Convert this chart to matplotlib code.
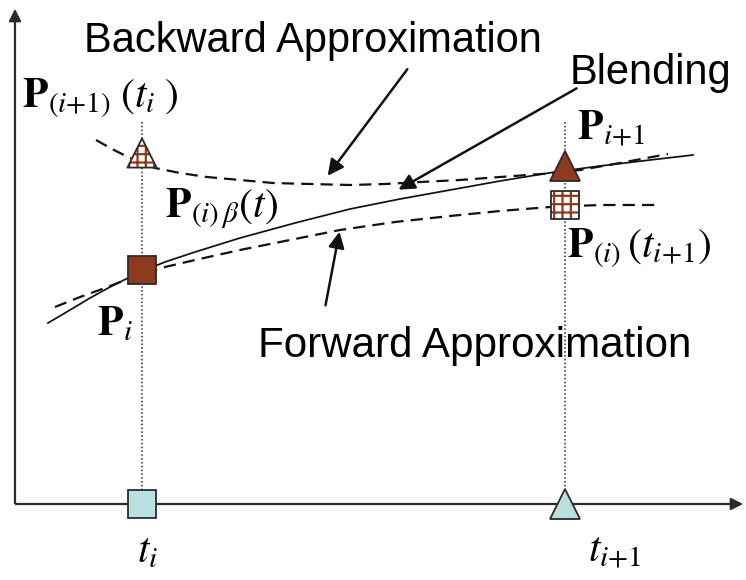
import matplotlib
matplotlib.use("Agg")
import matplotlib.pyplot as plt

plt.rcParams['mathtext.fontset'] = 'stix'
plt.rcParams['hatch.color'] = '#9a3b22'
plt.rcParams['hatch.linewidth'] = 1.6

# ---- data (pixel-space coordinates) ----
blend_x = [48, 70, 90, 110, 128, 145, 165, 195, 240, 295, 350, 400, 450, 500, 555, 600, 650, 693]
blend_y = [323, 310, 298, 287, 278, 270, 262, 252, 238, 223, 209, 199, 190, 181, 172, 166, 160, 155]

forward_x = [55, 80, 105, 128, 145, 165, 195, 240, 290, 340, 395, 450, 500, 550, 600, 657]
forward_y = [307, 297, 288, 279, 273, 267, 260, 250, 240, 230, 222, 216, 211, 207, 205, 205]

backward_x = [96, 112, 128, 142, 155, 180, 207, 240, 273, 310, 350, 385, 420, 460, 500, 555, 580, 620, 668]
backward_y = [140, 149, 157, 163, 168, 173, 177, 180, 183, 184, 185, 184, 182, 180, 177, 173, 170, 163, 154]

t_pos = [142, 565]
t_labels = [r'$t_i$', r'$t_{i{+}1}$']
axis_y = 504

P_i = (142, 270)
P_back = (142, 153)
P_next = (565, 166)
P_fwd = (565, 205)

BROWN = '#8e3a1f'
BLUE = '#bcdfe1'
DARK = '#2b2b2b'

fig = plt.figure(figsize=(7.46, 5.80), dpi=100)
ax = fig.add_axes([0, 0, 1, 1])
ax.set_xlim(0, 746)
ax.set_ylim(580, 0)
ax.axis('off')

# axes with arrows
ax.plot([15, 15], [axis_y, 20], color=DARK, lw=1.6, zorder=2, solid_capstyle='butt')
ax.plot([15, 736], [axis_y, axis_y], color=DARK, lw=1.6, zorder=2, solid_capstyle='butt')
ax.annotate('', xy=(15, 6), xytext=(15, 24),
            arrowprops=dict(arrowstyle='-|>', color=DARK, lw=1.6, mutation_scale=18))
ax.annotate('', xy=(746, axis_y), xytext=(730, axis_y),
            arrowprops=dict(arrowstyle='-|>', color=DARK, lw=1.6, mutation_scale=18))

# dotted verticals
for x in t_pos:
    ax.plot([x, x], [122, axis_y], color=DARK, lw=1.1, ls=(0, (1, 1.5)), zorder=1)

# curves
ax.plot(blend_x, blend_y, color='#111111', lw=1.25, zorder=3)
ax.plot(forward_x, forward_y, color='#111111', lw=1.6, ls=(0, (5.5, 3.2)), zorder=3)
ax.plot(backward_x, backward_y, color='#111111', lw=1.6, ls=(0, (5.5, 3.2)), zorder=3)

# axis markers
ax.plot([t_pos[0]], [axis_y], marker='s', ms=20, mfc=BLUE, mec=DARK, mew=1.3, zorder=5)
ax.plot([t_pos[1]], [axis_y], marker='^', ms=21, mfc=BLUE, mec=DARK, mew=1.3, zorder=5)

# solid points
ax.plot([P_i[0]], [P_i[1]], marker='s', ms=20, mfc=BROWN, mec=DARK, mew=1.3, zorder=5)
ax.plot([P_next[0]], [P_next[1]], marker='^', ms=21, mfc=BROWN, mec=DARK, mew=1.3, zorder=5)

# hatched points
ax.scatter([P_back[0]], [P_back[1]], marker='^', s=21**2, facecolor='white',
           edgecolor=BROWN, hatch='++', linewidths=0, zorder=5)
ax.scatter([P_back[0]], [P_back[1]], marker='^', s=21**2, facecolor='none',
           edgecolor=DARK, linewidths=1.3, zorder=6)
ax.scatter([P_fwd[0]], [P_fwd[1]], marker='s', s=20**2, facecolor='white',
           edgecolor=BROWN, hatch='++', linewidths=0, zorder=5)
ax.scatter([P_fwd[0]], [P_fwd[1]], marker='s', s=20**2, facecolor='none',
           edgecolor=DARK, linewidths=1.3, zorder=6)

# word labels
sans = dict(family='Liberation Sans', fontsize=30, color='black')
ax.text(84, 52, 'Backward Approximation', ha='left', va='baseline', **sans)
ax.text(570, 84, 'Blending', ha='left', va='baseline', **sans)
ax.text(258, 357, 'Forward Approximation', ha='left', va='baseline', fontsize=30.3,
        family='Liberation Sans', color='black')

# annotation arrows
arw = dict(arrowstyle='-|>', color='#111111', lw=1.8, mutation_scale=24)
ax.annotate('', xy=(326, 178), xytext=(409, 67), arrowprops=arw)
ax.annotate('', xy=(396, 191), xytext=(579, 87), arrowprops=arw)
ax.annotate('', xy=(340, 229), xytext=(325, 308), arrowprops=arw)

# math labels
m = dict(fontsize=30, color='black', va='baseline', ha='left')
ax.text(22, 107, r'$\mathbf{P}_{(i{+}1)}\;(t_i\;)$', **m)
ax.text(165, 217, r'$\mathbf{P}_{(i)\,\beta}(t)$', **m)
ax.text(97, 335, r'$\mathbf{P}_i$', **m)
ax.text(577, 140, r'$\mathbf{P}_{i{+}1}$', **m)
ax.text(567, 257, r'$\mathbf{P}_{(i)}\,(t_{i{+}1})$', **m)
ax.text(t_pos[0] - 5, 562, t_labels[0], **m)
ax.text(t_pos[1] + 23, 562, t_labels[1], **m)

fig.savefig('out.png', dpi=100)
